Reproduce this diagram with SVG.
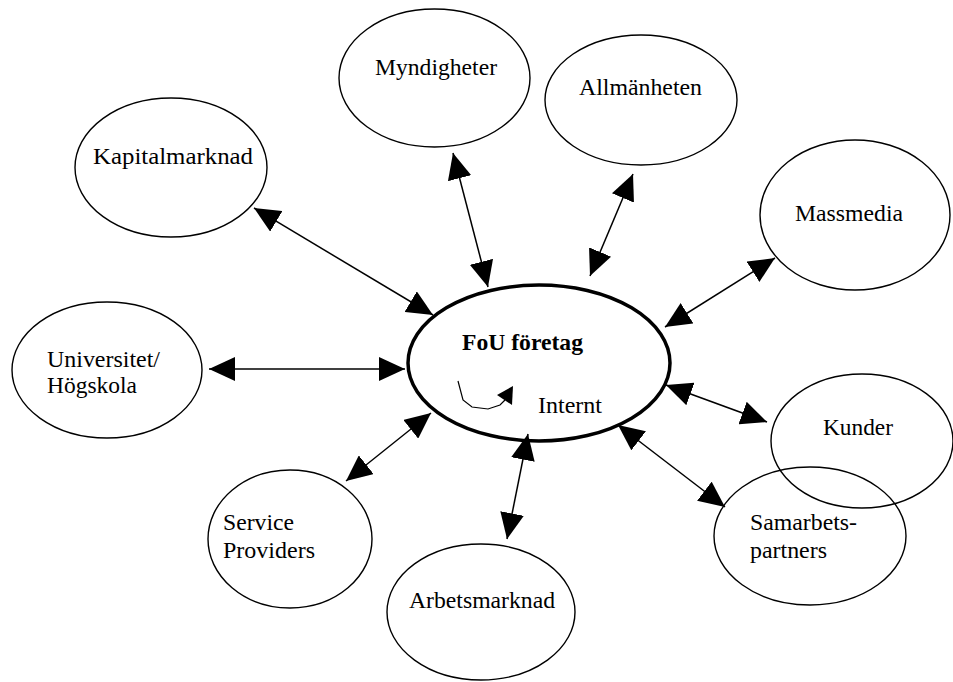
<svg xmlns="http://www.w3.org/2000/svg" width="953" height="682" viewBox="0 0 953 682">
  <style>
    .node { fill: none; stroke: #000000; stroke-width: 1.4; }
    .core { fill: none; stroke: #000000; stroke-width: 3.5; }
    .lbl { font-family: "Liberation Serif", "Times New Roman", serif; font-size: 23.5px; fill: #000000; }
    .bold { font-weight: bold; }
    .link { fill: none; stroke: #000000; stroke-width: 1.5; marker-start: url(#head); marker-end: url(#head); }
  </style>
  <defs>
    <marker id="head" viewBox="0 0 26 24" refX="26" refY="12" markerWidth="26" markerHeight="24" markerUnits="userSpaceOnUse" orient="auto-start-reverse">
      <path d="M0,0 L26,12 L0,24 Z" fill="#000000"/>
    </marker>
  </defs>

  <rect width="953" height="682" fill="#ffffff"/>

  <!-- surrounding actors -->
  <g id="kapitalmarknad">
    <ellipse class="node" cx="171" cy="167.5" rx="96" ry="69.5"/>
    <text class="lbl" x="93" y="164" textLength="160" lengthAdjust="spacingAndGlyphs">Kapitalmarknad</text>
  </g>
  <g id="myndigheter">
    <ellipse class="node" cx="434.5" cy="78" rx="95.5" ry="69"/>
    <text class="lbl" x="375" y="75" textLength="122" lengthAdjust="spacingAndGlyphs">Myndigheter</text>
  </g>
  <g id="allmanheten">
    <ellipse class="node" cx="641" cy="100" rx="96" ry="65"/>
    <text class="lbl" x="579" y="95" textLength="123" lengthAdjust="spacingAndGlyphs">Allmänheten</text>
  </g>
  <g id="massmedia">
    <ellipse class="node" cx="855" cy="215" rx="95" ry="75"/>
    <text class="lbl" x="795" y="221" textLength="108" lengthAdjust="spacingAndGlyphs">Massmedia</text>
  </g>
  <g id="universitet">
    <ellipse class="node" cx="107" cy="370" rx="95" ry="68"/>
    <text class="lbl" x="47" y="367" textLength="113" lengthAdjust="spacingAndGlyphs">Universitet/</text>
    <text class="lbl" x="47" y="393" textLength="90" lengthAdjust="spacingAndGlyphs">Högskola</text>
  </g>
  <g id="kunder">
    <ellipse class="node" cx="862" cy="441" rx="91" ry="67"/>
    <text class="lbl" x="823" y="435" textLength="70" lengthAdjust="spacingAndGlyphs">Kunder</text>
  </g>
  <g id="samarbetspartners">
    <ellipse class="node" cx="810" cy="536" rx="96" ry="69"/>
    <text class="lbl" x="750" y="530" textLength="107" lengthAdjust="spacingAndGlyphs">Samarbets-</text>
    <text class="lbl" x="750" y="558" textLength="77" lengthAdjust="spacingAndGlyphs">partners</text>
  </g>
  <g id="serviceproviders">
    <ellipse class="node" cx="290" cy="539" rx="82" ry="69"/>
    <text class="lbl" x="223" y="530" textLength="71" lengthAdjust="spacingAndGlyphs">Service</text>
    <text class="lbl" x="223" y="558" textLength="92" lengthAdjust="spacingAndGlyphs">Providers</text>
  </g>
  <g id="arbetsmarknad">
    <ellipse class="node" cx="481" cy="612" rx="94" ry="68"/>
    <text class="lbl" x="409" y="608" textLength="146" lengthAdjust="spacingAndGlyphs">Arbetsmarknad</text>
  </g>

  <!-- the company at the centre, with its internal loop -->
  <g id="fou-foretag">
    <ellipse class="core" cx="539" cy="363" rx="131" ry="78"/>
    <text class="lbl bold" x="462" y="350" textLength="121" lengthAdjust="spacingAndGlyphs">FoU företag</text>
    <polyline points="458,381 463,400 472,407 488,409 500,405 505,400" fill="none" stroke="#000000" stroke-width="1.2"/>
    <polygon points="513,386 497,395 512,405" fill="#000000"/>
    <text class="lbl" x="538" y="413" textLength="64" lengthAdjust="spacingAndGlyphs">Internt</text>
  </g>

  <!-- two-way relations -->
  <g id="connectors">
    <line class="link" x1="254" y1="208" x2="433" y2="315"/>
    <line class="link" x1="453" y1="153" x2="488" y2="287"/>
    <line class="link" x1="633" y1="174" x2="590" y2="276"/>
    <line class="link" x1="775" y1="258" x2="665" y2="327"/>
    <line class="link" x1="209" y1="369" x2="405" y2="369"/>
    <line class="link" x1="767" y1="422" x2="666" y2="385"/>
    <line class="link" x1="725" y1="507" x2="618" y2="425"/>
    <line class="link" x1="346" y1="481" x2="431" y2="413"/>
    <line class="link" x1="507" y1="539" x2="528" y2="434"/>
  </g>
</svg>
